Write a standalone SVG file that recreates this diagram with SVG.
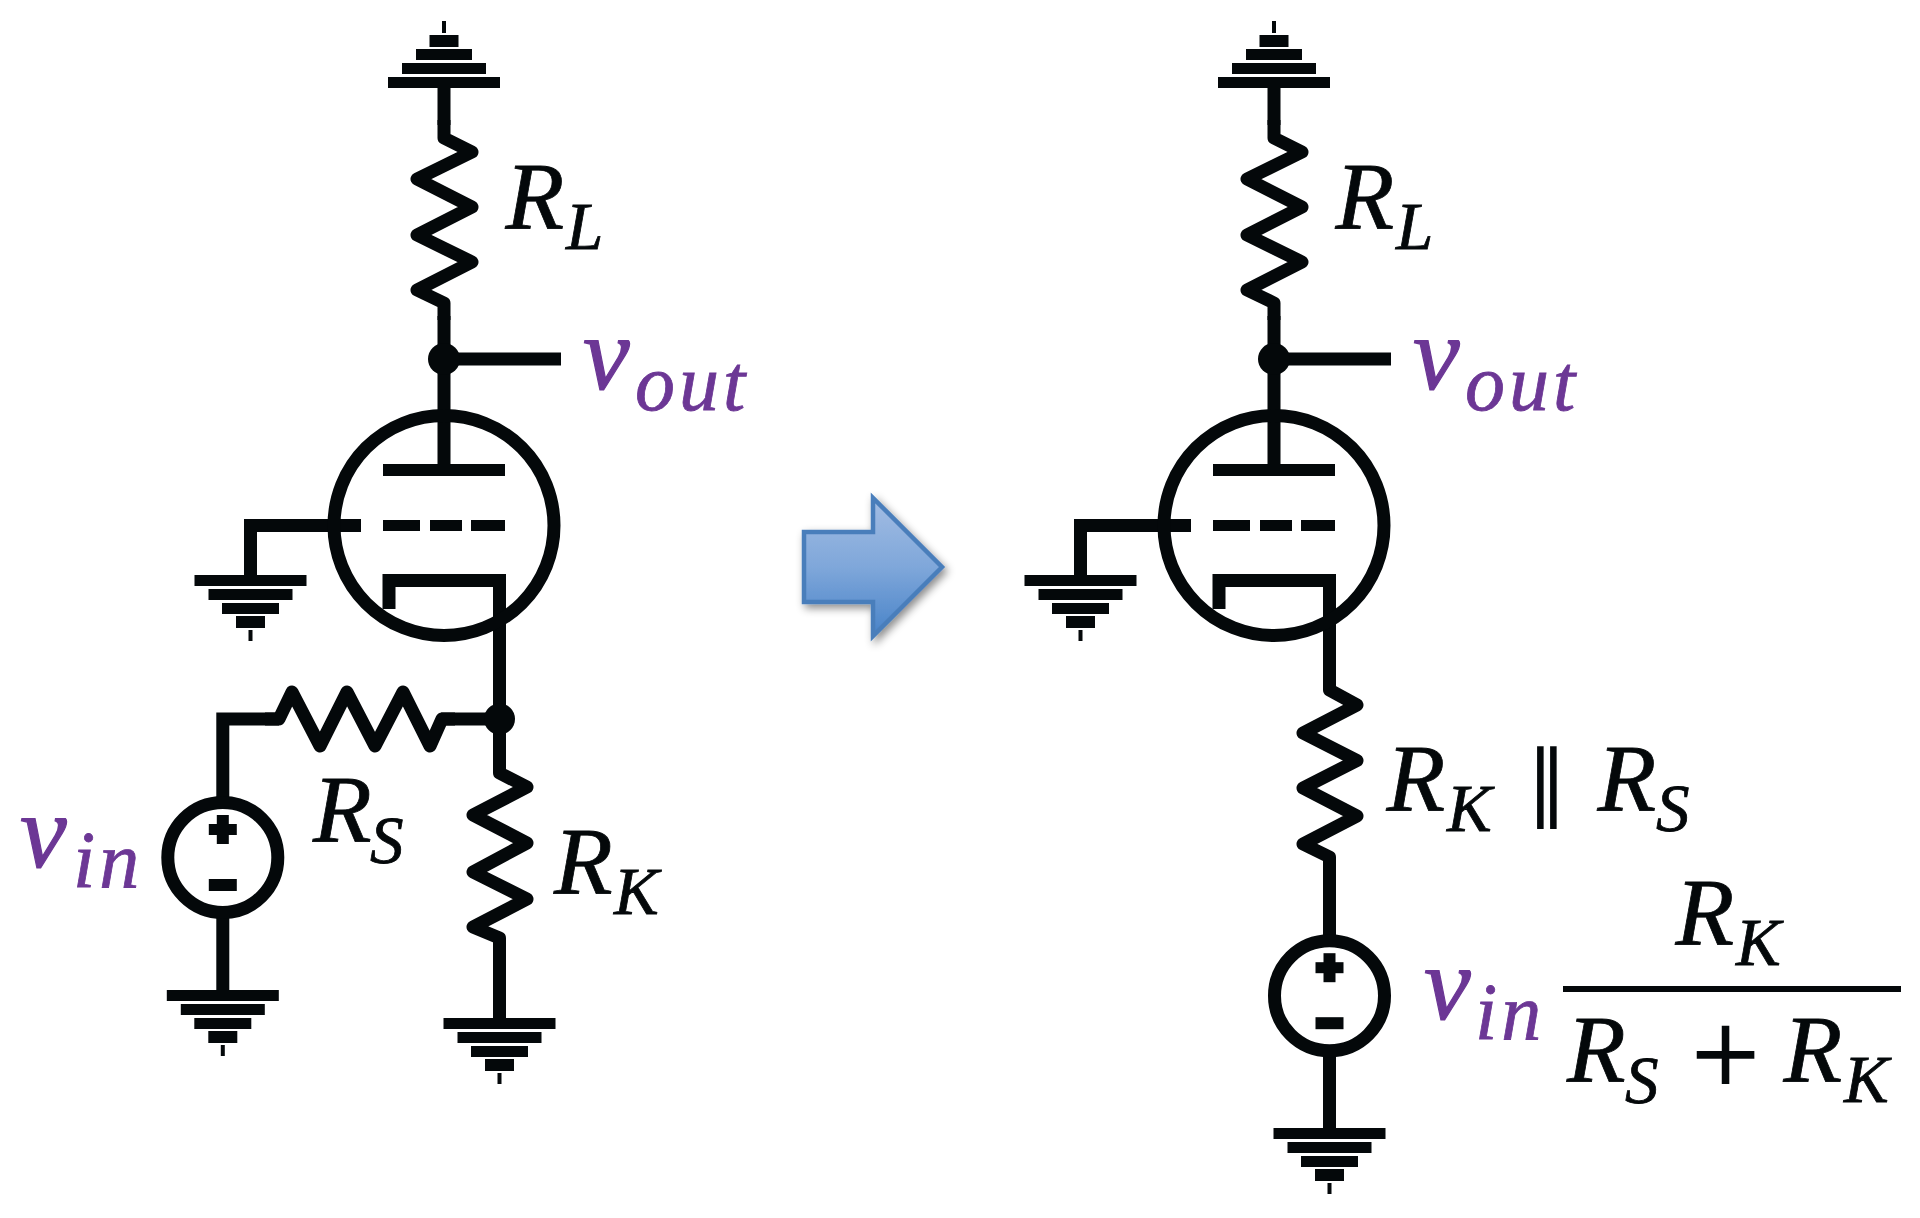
<svg xmlns="http://www.w3.org/2000/svg" xmlns:xlink="http://www.w3.org/1999/xlink" width="1920" height="1218" viewBox="0 0 1920 1218">
<style>
.w{fill:none;stroke:#04080a;stroke-width:13;stroke-linejoin:round}
.z{fill:none;stroke:#04080a;stroke-width:13;stroke-linejoin:round}
.wm{fill:none;stroke:#04080a;stroke-width:13;stroke-linejoin:miter}
.k{fill:#04080a}
text{font-family:"Liberation Serif","DejaVu Serif",serif;font-style:italic;fill:#04080a;stroke:#04080a;stroke-width:0.8px}
.m{font-size:96px}
.s{font-size:67px}
.vv{font-size:105px;fill:#6c3795;stroke:#6c3795;stroke-width:1.2px}
.vs{font-size:80px;fill:#6c3795;stroke:#6c3795;letter-spacing:4px}
.up{font-family:"DejaVu Sans",sans-serif;font-style:normal;stroke:none}
</style>
<defs>
<g id="gnd"><rect class="k" x="-56" y="0" width="112" height="11"/><rect class="k" x="-42" y="14" width="84" height="11"/><rect class="k" x="-28.5" y="28" width="57" height="11"/><rect class="k" x="-14.5" y="41" width="29" height="12"/><rect class="k" x="-2" y="55" width="4" height="11"/></g>
<g id="gndUp"><rect class="k" x="-56" y="-11" width="112" height="11"/><rect class="k" x="-42" y="-25" width="84" height="11"/><rect class="k" x="-28" y="-39" width="56" height="11"/><rect class="k" x="-14.500" y="-53" width="29" height="12"/><rect class="k" x="-2" y="-67" width="4" height="12"/></g>
<g id="tube"><circle class="w" cx="0" cy="0" r="110"/><rect class="k" x="-61" y="-61.500" width="122" height="12"/><rect class="k" x="-61" y="-5.500" width="37" height="11"/><rect class="k" x="-14" y="-5.500" width="32" height="11"/><rect class="k" x="27" y="-5.500" width="34" height="11"/></g>
<g id="source"><circle class="w" cx="0" cy="0" r="55"/><rect class="k" x="-14" y="-33.500" width="28" height="11"/><rect class="k" x="-6" y="-42.500" width="12" height="29"/><rect class="k" x="-14" y="21.500" width="28" height="12"/></g>
<linearGradient id="ag" x1="0" y1="0" x2="0" y2="1"><stop offset="0" stop-color="#a3bde3"/><stop offset="0.5" stop-color="#7fa7da"/><stop offset="1" stop-color="#4883c8"/></linearGradient>
<filter id="sh" x="-20%" y="-20%" width="150%" height="150%"><feDropShadow dx="3" dy="4" stdDeviation="4" flood-color="#000" flood-opacity="0.45"/></filter>
</defs>

<g id="connectors">
<path class="wm" d="M444 88V125M444 316V464M444 359H561"/>
<path class="wm" d="M361 525.500H250.500V576"/>
<path class="wm" d="M389 609V580.500H499.500V760M499.500 719H441"/>
<path class="wm" d="M499.500 950V1018"/>
<path class="wm" d="M279 719H222.800V797M222.800 918V990"/>
<path class="wm" d="M1274 88V125M1274 316V464M1274 359H1391"/>
<path class="wm" d="M1191 525.500H1080.500V576"/>
<path class="wm" d="M1219 609V580.500H1329.500V675"/>
<path class="wm" d="M1329.500 870V935M1329.500 1056V1128"/>
</g>

<g id="left-ground-top"><use href="#gndUp" x="444" y="88"/></g>
<g id="left-RL"><polyline class="z" points="444,120 444,138 472,152 417,179 472,207 417,235 472,262 417,290 444,303 444,320"/><text><tspan class="m" x="505.500" y="229">R</tspan><tspan class="s" x="566" y="249">L</tspan></text></g>
<g id="left-vout-node"><circle class="k" cx="444" cy="359" r="16"/><text><tspan class="vv" x="583" y="389">v</tspan><tspan class="vs" x="635" y="410">out</tspan></text></g>
<g id="left-tube"><use href="#tube" x="444" y="525.500"/></g>
<g id="left-ground-grid"><use href="#gnd" x="250.500" y="575"/></g>
<g id="left-RS"><polyline class="z" points="265,719 279,719 292,692 320,746 347,692 375,746 403,692 430,746 442,719 455,719"/><text><tspan class="m" x="313" y="842">R</tspan><tspan class="s" x="370" y="863">S</tspan></text></g>
<g id="left-cathode-node"><circle class="k" cx="499.500" cy="719" r="15.500"/></g>
<g id="left-RK"><polyline class="z" points="499.500,755 499.500,773 527,787 473,815 527,843 473,872 527,899 473,927 499.500,938 499.500,955"/><text><tspan class="m" x="554" y="894">R</tspan><tspan class="s" x="614" y="914">K</tspan></text></g>
<g id="left-ground-RK"><use href="#gnd" x="499.500" y="1018"/></g>
<g id="left-source"><use href="#source" x="222.800" y="857.500"/><text><tspan class="vv" x="20" y="867">v</tspan><tspan class="vs" x="73" y="887">in</tspan></text></g>
<g id="left-ground-source"><use href="#gnd" x="222.800" y="990"/></g>

<g id="arrow"><path d="M804 532H873V498L942 567L873 636V602H804Z" fill="url(#ag)" stroke="#4a7ebb" stroke-width="4.500" filter="url(#sh)"/></g>

<g id="right-ground-top"><use href="#gndUp" x="1274" y="88"/></g>
<g id="right-RL"><polyline class="z" points="1274,120 1274,138 1302,152 1247,179 1302,207 1247,235 1302,262 1247,290 1274,303 1274,320"/><text><tspan class="m" x="1335.500" y="229">R</tspan><tspan class="s" x="1396" y="249">L</tspan></text></g>
<g id="right-vout-node"><circle class="k" cx="1274" cy="359" r="16"/><text><tspan class="vv" x="1413" y="389">v</tspan><tspan class="vs" x="1465" y="410">out</tspan></text></g>
<g id="right-tube"><use href="#tube" x="1274" y="525.500"/></g>
<g id="right-ground-grid"><use href="#gnd" x="1080.500" y="575"/></g>
<g id="right-R"><polyline class="z" points="1329.500,670 1329.500,690 1357,705 1303,733 1357,760.500 1303,788 1357,816 1303,844 1329.500,857 1329.500,875"/><text><tspan class="m" x="1386.500" y="811">R</tspan><tspan class="s" x="1447" y="831">K</tspan></text><text class="up" x="1526" y="811" font-size="84">∥</text><text><tspan class="m" x="1597.500" y="811">R</tspan><tspan class="s" x="1656" y="831">S</tspan></text></g>
<g id="right-source"><use href="#source" x="1329.500" y="995.700"/><text><tspan class="vv" x="1424" y="1019">v</tspan><tspan class="vs" x="1475" y="1039">in</tspan></text></g>
<g id="right-ground-source"><use href="#gnd" x="1329.500" y="1128"/></g>
<g id="right-fraction"><text><tspan class="m" x="1675.500" y="945">R</tspan><tspan class="s" x="1736" y="965">K</tspan></text><rect class="k" x="1563" y="986" width="338" height="6"/><text><tspan class="m" x="1567" y="1082">R</tspan><tspan class="s" x="1625" y="1103">S</tspan></text><text class="up" x="1687" y="1084" font-size="92">+</text><text><tspan class="m" x="1783.500" y="1082">R</tspan><tspan class="s" x="1844" y="1102">K</tspan></text></g>
</svg>
